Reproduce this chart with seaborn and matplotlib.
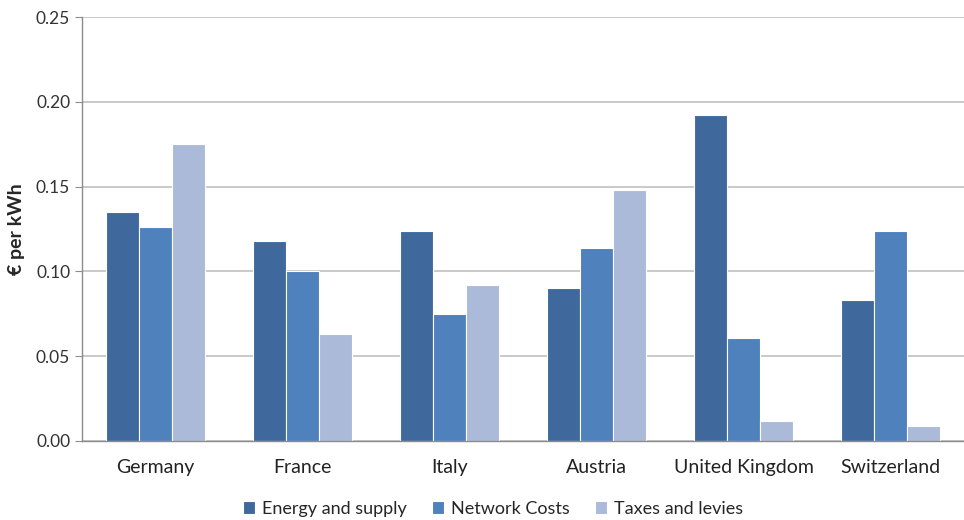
import pandas as pd
import matplotlib
matplotlib.use("Agg")
import matplotlib.pyplot as plt
import seaborn as sns
from matplotlib.ticker import FixedLocator

# values (€ per kWh)
countries = ["Germany", "France", "Italy", "Austria", "United Kingdom", "Switzerland"]
components = ["Energy and supply", "Network Costs", "Taxes and levies"]
energy = [0.135, 0.118, 0.124, 0.090, 0.192, 0.083]
network = [0.126, 0.100, 0.075, 0.114, 0.061, 0.124]
taxes = [0.175, 0.063, 0.092, 0.148, 0.012, 0.009]
colors = ["#3F699C", "#4F81BD", "#ABBAD8"]

rows = []
for comp, vals in zip(components, [energy, network, taxes]):
    for c, v in zip(countries, vals):
        rows.append({"Country": c, "Component": comp, "Value": v})
df = pd.DataFrame(rows)

sns.set_style("white")
plt.rcParams["font.family"] = ["Lato", "DejaVu Sans"]

fig = plt.figure(figsize=(9.64, 5.2), dpi=100)
ax = fig.add_axes([0.085, 0.152, 0.915, 0.815])

sns.barplot(data=df, x="Country", y="Value", hue="Component", order=countries,
            hue_order=components, palette=colors, width=0.67, saturation=1,
            edgecolor="white", linewidth=0.8, ax=ax, legend=True)

ax.set_ylim(0, 0.25)
ax.set_xlim(-0.5, len(countries) - 0.5)
ax.set_yticks([0, 0.05, 0.10, 0.15, 0.20, 0.25])
ax.set_yticklabels([f"{t:.2f}" for t in ax.get_yticks()])
ax.yaxis.grid(True, color="#C0C0C0", linewidth=1.2)
ax.set_axisbelow(True)

for s in ["top", "right"]:
    ax.spines[s].set_visible(False)
for s in ["left", "bottom"]:
    ax.spines[s].set_color("#8C8C8C")
    ax.spines[s].set_linewidth(1.0)

ax.tick_params(axis="x", which="major", length=0, labelsize=14, pad=13, colors="#222222")
ax.xaxis.set_minor_locator(FixedLocator([i - 0.5 for i in range(len(countries) + 1)]))
ax.tick_params(axis="x", which="minor", length=5, color="#8C8C8C", width=1)
ax.tick_params(axis="y", length=5, color="#8C8C8C", labelsize=12.5, labelcolor="#333333", left=True)

ax.set_xlabel("")
ax.set_ylabel("€ per kWh", fontsize=14, fontweight="bold", labelpad=8)

handles, labels = ax.get_legend_handles_labels()
ax.get_legend().remove()
fig.legend(handles, labels, loc="center", bbox_to_anchor=(0.511, 0.022), ncol=3,
           frameon=False, fontsize=13, handlelength=0.7, handleheight=0.7,
           handletextpad=0.35, columnspacing=1.4)

fig.savefig("out.png", dpi=100)
